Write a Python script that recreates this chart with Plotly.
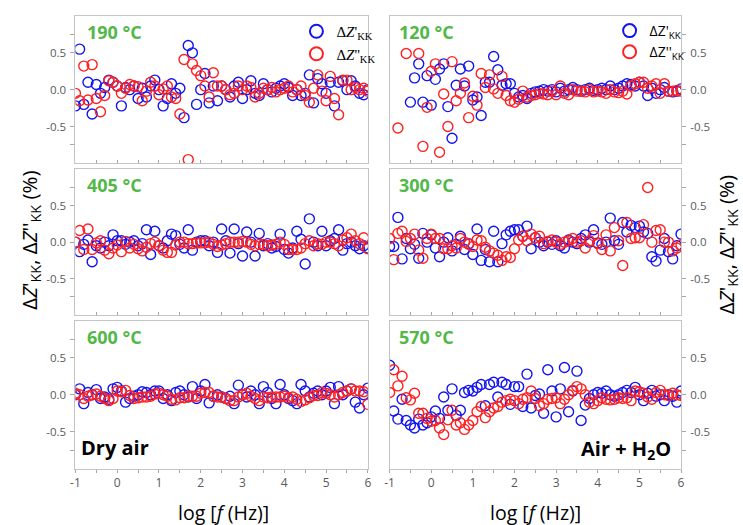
import plotly.graph_objects as go

# ---------------- data ----------------
LOGF = [-1.0, -0.9, -0.8, -0.7, -0.6, -0.5, -0.4, -0.3, -0.2, -0.1,
        0.0, 0.1, 0.2, 0.3, 0.4, 0.5, 0.6, 0.7, 0.8, 0.9,
        1.0, 1.1, 1.2, 1.3, 1.4, 1.5, 1.6, 1.7, 1.8, 1.9,
        2.0, 2.1, 2.2, 2.3, 2.4, 2.5, 2.6, 2.7, 2.8, 2.9,
        3.0, 3.1, 3.2, 3.3, 3.4, 3.5, 3.6, 3.7, 3.8, 3.9,
        4.0, 4.1, 4.2, 4.3, 4.4, 4.5, 4.6, 4.7, 4.8, 4.9,
        5.0, 5.1, 5.2, 5.3, 5.4, 5.5, 5.6, 5.7, 5.8, 5.9,
        6.0]

# 190 °C, dry air
ZRE_190 = [-0.22, 0.55, -0.20, 0.10, -0.33, 0.07, -0.05, 0.03, 0.13, 0.10,
           0.05, -0.22, 0.03, 0.00, 0.05, -0.12, 0.02, -0.10, 0.05, 0.13,
           0.00, -0.22, -0.12, 0.08, -0.05, 0.02, -0.38, 0.60, 0.50, -0.20,
           0.00, 0.22, -0.18, 0.05, -0.15, 0.05, 0.00, -0.10, 0.05, 0.10,
           -0.12, 0.00, 0.12, -0.05, -0.08, 0.08, 0.00, -0.03, 0.02, 0.05,
           0.08, 0.03, -0.08, 0.00, -0.08, -0.05, 0.20, -0.18, 0.15, 0.08,
           -0.05, 0.10, -0.22, 0.10, 0.12, 0.00, 0.12, 0.05, -0.05, -0.07,
           0.00]
ZIM_190 = [-0.05, -0.15, 0.32, -0.14, 0.34, -0.12, -0.30, -0.08, 0.12, 0.10,
           0.05, -0.05, 0.02, 0.07, 0.05, 0.04, -0.15, -0.02, 0.10, 0.05,
           -0.07, 0.01, 0.05, -0.10, -0.12, -0.33, 0.41, -0.95, 0.35, 0.26,
           0.19, 0.05, -0.10, 0.23, 0.05, 0.05, 0.00, -0.07, -0.05, 0.05,
           0.00, 0.05, 0.03, -0.10, -0.05, 0.02, 0.00, 0.03, -0.03, 0.00,
           0.02, 0.05, -0.03, 0.00, 0.05, -0.08, -0.17, 0.02, 0.20, -0.02,
           -0.15, 0.18, -0.12, -0.34, 0.13, 0.13, 0.00, 0.03, 0.00, 0.02,
           -0.02]

# 120 °C, air + H2O
ZRE_120 = [None, None, None, None, None, -0.17, 0.16, 0.35, -0.17, 0.19,
           -0.21, 0.14, 0.28, 0.35, -0.23, -0.66, 0.06, 0.28, 0.05, 0.32,
           -0.14, -0.10, -0.35, 0.10, 0.10, 0.45, 0.27, 0.06, 0.08, 0.08,
           -0.05, -0.10, -0.08, -0.12, -0.05, -0.03, -0.02, 0.00, -0.02, 0.00,
           -0.03, 0.02, -0.02, 0.00, 0.03, 0.00, -0.02, 0.00, 0.02, -0.01,
           0.00, 0.02, 0.00, 0.05, 0.00, 0.02, 0.05, 0.08, 0.07, 0.05,
           0.10, 0.05, -0.08, 0.02, -0.05, 0.00, 0.03, -0.02, -0.03, -0.02,
           0.01]
ZIM_120 = [None, None, -0.52, None, 0.49, None, None, 0.49, -0.77, -0.24,
           0.25, 0.35, -0.85, -0.06, -0.50, 0.38, -0.15, -0.05, 0.09, -0.38,
           -0.09, -0.21, 0.22, 0.03, 0.20, 0.01, -0.05, 0.18, -0.08, -0.15,
           -0.17, -0.13, -0.02, -0.10, -0.08, -0.07, -0.05, -0.06, -0.07, -0.02,
           -0.07, 0.05, -0.05, -0.07, 0.00, -0.02, -0.02, -0.03, 0.00, -0.03,
           -0.02, -0.03, -0.05, 0.00, -0.03, -0.04, -0.02, -0.06, 0.05, 0.08,
           0.10, 0.10, 0.02, 0.05, 0.08, -0.05, 0.08, -0.02, -0.02, -0.01,
           -0.02]

# 405 °C, dry air
ZRE_405 = [0.00, -0.13, -0.03, 0.03, -0.27, -0.05, -0.08, 0.00, -0.05, 0.10,
           0.02, 0.02, -0.03, 0.00, 0.02, -0.05, -0.02, 0.17, -0.17, 0.15,
           -0.05, -0.08, 0.02, 0.11, 0.09, -0.03, -0.08, 0.17, -0.11, 0.00,
           0.02, 0.02, -0.05, 0.00, -0.14, 0.18, 0.02, -0.15, 0.18, -0.02,
           -0.19, 0.14, 0.00, -0.19, 0.12, -0.05, -0.02, -0.08, -0.06, 0.11,
           -0.10, -0.15, -0.08, 0.15, 0.04, -0.30, 0.32, 0.00, -0.05, 0.15,
           -0.05, 0.02, 0.05, 0.17, -0.11, -0.02, 0.00, -0.05, -0.09, -0.05,
           -0.08]
ZIM_405 = [0.00, 0.16, -0.10, 0.18, -0.10, -0.01, 0.02, -0.11, -0.16, -0.08,
           -0.04, -0.13, 0.01, -0.08, -0.03, -0.09, -0.12, -0.07, -0.02, 0.00,
           -0.05, -0.11, -0.14, -0.14, -0.04, 0.00, 0.00, -0.02, -0.02, -0.01,
           -0.01, -0.01, 0.00, -0.03, -0.06, -0.04, -0.02, 0.00, 0.00, 0.00,
           0.01, 0.00, -0.03, -0.05, -0.03, -0.03, -0.05, -0.04, -0.03, 0.00,
           -0.03, -0.10, -0.10, -0.10, -0.08, -0.02, 0.02, -0.05, -0.02, -0.03,
           0.00, 0.00, -0.02, -0.05, 0.03, 0.06, 0.11, 0.02, -0.02, 0.06,
           -0.09]

# 300 °C, air + H2O
ZRE_300 = [-0.06, -0.06, 0.34, -0.23, 0.05, -0.09, -0.03, -0.22, 0.12, 0.00,
           0.10, -0.08, -0.20, 0.00, 0.06, -0.12, -0.03, 0.08, -0.10, -0.02,
           -0.17, 0.18, -0.25, -0.10, -0.27, 0.15, -0.27, -0.02, 0.10, 0.15,
           0.17, 0.17, 0.08, 0.22, -0.09, 0.06, 0.00, -0.05, 0.00, -0.03,
           0.02, -0.05, -0.08, 0.03, 0.00, -0.02, 0.05, 0.10, 0.00, 0.17,
           -0.01, -0.03, 0.00, 0.33, 0.02, -0.03, 0.27, 0.14, 0.23, 0.20,
           0.22, 0.14, 0.12, -0.20, -0.26, -0.11, 0.05, -0.13, -0.23, -0.05,
           0.11]
ZIM_300 = [0.05, -0.24, 0.12, 0.15, 0.01, 0.05, 0.11, -0.11, -0.22, 0.05,
           0.11, 0.05, 0.05, -0.09, -0.09, -0.05, -0.08, 0.05, 0.00, -0.03,
           -0.06, 0.03, 0.02, -0.07, -0.12, -0.15, -0.18, -0.25, -0.20, -0.21,
           -0.09, 0.03, 0.08, 0.02, 0.11, 0.06, 0.08, -0.02, 0.01, 0.03,
           0.00, -0.03, 0.00, 0.02, 0.05, 0.00, 0.02, -0.08, 0.02, 0.09,
           -0.02, -0.10, 0.10, -0.12, 0.20, 0.02, -0.32, 0.27, 0.05, 0.06,
           0.06, 0.24, 0.75, 0.00, 0.16, 0.17, 0.00, 0.00, -0.12, -0.08,
           -0.04]

# 600 °C, dry air
ZRE_600 = [0.00, 0.08, -0.12, 0.03, 0.00, 0.07, -0.05, -0.03, -0.06, 0.08,
           0.10, 0.05, -0.10, -0.05, -0.02, 0.00, 0.04, 0.03, 0.00, 0.05,
           0.05, -0.05, 0.00, -0.08, 0.03, 0.05, 0.00, -0.03, 0.11, -0.05,
           0.05, 0.14, -0.11, -0.02, 0.00, -0.03, -0.05, -0.02, -0.12, 0.13,
           0.00, -0.03, 0.05, 0.00, -0.12, 0.11, 0.03, -0.05, -0.12, 0.14,
           0.00, -0.05, -0.08, -0.12, 0.14, 0.05, -0.03, 0.02, 0.05, 0.00,
           0.05, 0.10, -0.12, 0.11, 0.00, 0.05, 0.08, -0.10, -0.18, 0.00,
           0.09]
ZIM_600 = [0.02, 0.00, -0.05, -0.02, 0.00, 0.01, -0.02, -0.05, -0.08, -0.05,
           0.05, 0.04, 0.06, -0.01, -0.05, -0.04, -0.03, -0.03, -0.02, 0.01,
           0.02, 0.00, -0.02, -0.06, -0.07, -0.04, -0.04, -0.02, -0.02, -0.02,
           0.02, 0.03, 0.03, -0.02, -0.03, -0.03, -0.05, -0.08, -0.08, -0.03,
           0.00, 0.02, -0.02, -0.05, -0.08, -0.03, -0.04, -0.03, -0.03, -0.03,
           -0.02, -0.04, -0.03, -0.06, -0.09, -0.07, -0.04, -0.01, -0.01, 0.03,
           0.02, 0.00, -0.03, 0.00, 0.03, 0.05, 0.08, 0.05, 0.05, 0.04,
           -0.13]

# 570 °C, air + H2O
ZRE_570 = [0.40, -0.22, -0.33, -0.06, -0.35, -0.41, -0.45, -0.33, -0.41, -0.38,
           -0.30, -0.22, -0.32, -0.03, -0.21, 0.08, -0.28, -0.21, 0.03, 0.06,
           0.05, 0.10, 0.14, -0.15, 0.14, 0.17, -0.03, 0.17, 0.14, -0.13,
           0.11, 0.11, -0.16, 0.28, -0.18, -0.01, 0.01, -0.25, 0.34, 0.05,
           -0.30, 0.08, 0.37, -0.23, 0.05, 0.32, -0.35, -0.14, -0.05, 0.00,
           0.03, 0.02, 0.05, 0.00, -0.02, 0.00, 0.03, 0.06, 0.03, 0.10,
           0.00, -0.08, 0.02, 0.06, -0.02, 0.00, -0.08, 0.00, -0.02, -0.10,
           0.05]
ZIM_570 = [0.03, 0.34, 0.12, 0.25, -0.04, -0.07, 0.02, -0.25, -0.25, -0.32,
           -0.36, -0.35, -0.45, -0.54, -0.34, -0.21, -0.41, -0.38, -0.47, -0.41,
           -0.35, -0.23, -0.16, -0.31, -0.23, -0.18, -0.16, -0.10, -0.08, -0.06,
           -0.08, -0.12, -0.06, -0.04, 0.05, -0.05, -0.15, -0.12, -0.06, -0.05,
           -0.04, -0.12, -0.06, 0.00, 0.06, 0.11, 0.08, 0.00, -0.10, -0.12,
           -0.08, -0.04, -0.06, -0.07, -0.06, -0.04, -0.05, -0.04, -0.08, 0.05,
           0.04, 0.02, -0.03, -0.06, 0.03, 0.06, 0.00, -0.01, 0.02, 0.00,
           -0.01]

PANEL_LABELS = ["190 °C", "120 °C", "405 °C", "300 °C", "600 °C", "570 °C"]
SERIES = [(ZRE_190, ZIM_190), (ZRE_120, ZIM_120), (ZRE_405, ZIM_405),
          (ZRE_300, ZIM_300), (ZRE_600, ZIM_600), (ZRE_570, ZIM_570)]
Y_TICKVALS = [-0.5, 0.0, 0.5]
Y_TICKTEXT = ["-0.5", "0.0", "0.5"]
X_TICKVALS = [-1, 0, 1, 2, 3, 4, 5, 6]
X_TICKTEXT = ["-1", "0", "1", "2", "3", "4", "5", "6"]

# ---------------- layout helpers ----------------
W, H = 743, 525
def px(x):
    return x / W
def py(y):
    return 1 - y / H

BLUE = "#1414F0"
RED = "#FF2020"
GREEN = "#52B848"
FRAME = "#C4C4C4"
TICKC = "#A6A6A6"
TXT = "#595959"

XDOM = [[px(71.3), px(367.3)], [px(389.3), px(684.3)]]
YDOM = [[py(163.3), py(16)], [py(315), py(169.3)], [py(468.5), py(321)]]

fig = go.Figure()

for i, (zre, zim) in enumerate(SERIES):
    sfx = "" if i == 0 else str(i + 1)
    fig.add_trace(go.Scatter(
        x=LOGF, y=zre, mode="markers", xaxis="x" + sfx, yaxis="y" + sfx,
        marker=dict(symbol="circle-open", size=10, color=BLUE, line=dict(width=1.4, color=BLUE)),
        showlegend=False, hoverinfo="skip"))
    fig.add_trace(go.Scatter(
        x=LOGF, y=zim, mode="markers", xaxis="x" + sfx, yaxis="y" + sfx,
        marker=dict(symbol="circle-open", size=10, color=RED, line=dict(width=1.4, color=RED)),
        showlegend=False, hoverinfo="skip"))

# legend entries (top panels)
for leg, sfx, it in [("legend", "", True), ("legend2", "2", False)]:
    z = "<i>Z</i>" if it else "Z"
    fig.add_trace(go.Scatter(
        x=[None], y=[None], mode="markers", xaxis="x" + sfx, yaxis="y" + sfx,
        name="Δ" + z + "'<sub>KK</sub>", legend=leg,
        marker=dict(symbol="circle-open", size=13, color=BLUE, line=dict(width=2, color=BLUE))))
    fig.add_trace(go.Scatter(
        x=[None], y=[None], mode="markers", xaxis="x" + sfx, yaxis="y" + sfx,
        name="Δ" + z + "''<sub>KK</sub>", legend=leg,
        marker=dict(symbol="circle-open", size=13, color=RED, line=dict(width=2, color=RED))))

layout = dict(
    width=W, height=H, margin=dict(l=0, r=0, t=0, b=0),
    paper_bgcolor="white", plot_bgcolor="white",
    font=dict(family="Open Sans", color=TXT),
    legend=dict(x=px(295), y=py(15), xanchor="left", yanchor="top",
                bgcolor="rgba(0,0,0,0)", font=dict(family="Liberation Serif", size=15, color="black"),
                tracegroupgap=0),
    legend2=dict(x=px(612), y=py(15), xanchor="left", yanchor="top",
                 bgcolor="rgba(0,0,0,0)", font=dict(family="Open Sans", size=14, color="black"),
                 tracegroupgap=0),
)

annotations = []
for i in range(6):
    col, row = i % 2, i // 2
    sfx = "" if i == 0 else str(i + 1)
    xticks = "inside" if row < 2 else "outside"
    layout["xaxis" + sfx] = dict(
        domain=XDOM[col], range=[-1, 6], anchor="y" + sfx,
        showline=True, mirror=True, linecolor=FRAME, linewidth=1,
        showgrid=False, zeroline=False,
        tickmode="array", tickvals=X_TICKVALS, ticktext=X_TICKTEXT,
        ticks=xticks, ticklen=3, tickcolor=TICKC,
        showticklabels=(row == 2), tickfont=dict(size=12, color=TXT),
        minor=dict(dtick=0.5, tick0=-0.5, ticks=xticks, ticklen=3, tickcolor=TICKC),
    )
    layout["yaxis" + sfx] = dict(
        domain=YDOM[row], range=[-1, 1], anchor="x" + sfx,
        side="left" if col == 0 else "right",
        showline=True, mirror=True, linecolor=FRAME, linewidth=1,
        showgrid=False, zeroline=False,
        tickmode="array", tickvals=Y_TICKVALS, ticktext=Y_TICKTEXT,
        ticks="outside", ticklen=4, tickcolor=TICKC, tickfont=dict(size=11.5, color=TXT),
        ticklabelstandoff=2,
        minor=dict(tickmode="array", tickvals=[-0.75, 0.75], ticks="outside", ticklen=4, tickcolor=TICKC),
    )
    xl = 84 if col == 0 else 400
    ytop = [16, 169.3, 321][row]
    annotations.append(dict(
        text="<b>" + PANEL_LABELS[i] + "</b>", xref="paper", yref="paper",
        x=px(xl - 3), y=py(ytop + 16), xanchor="left", yanchor="middle", showarrow=False,
        font=dict(family="Open Sans", size=18, color=GREEN)))

annotations += [
    dict(text="<b>Dry air</b>", xref="paper", yref="paper", x=px(75), y=py(447),
         xanchor="left", yanchor="middle", showarrow=False,
         font=dict(family="Open Sans", size=20, color="black")),
    dict(text="<b>Air + H<sub>2</sub>O</b>", xref="paper", yref="paper", x=px(676), y=py(449),
         xanchor="right", yanchor="middle", showarrow=False,
         font=dict(family="Open Sans", size=20, color="black")),
    dict(text="log [<i>f</i> (Hz)]", xref="paper", yref="paper", x=px(221), y=py(512),
         xanchor="center", yanchor="middle", showarrow=False,
         font=dict(family="Open Sans", size=19.5, color="black")),
    dict(text="log [<i>f</i> (Hz)]", xref="paper", yref="paper", x=px(537), y=py(512),
         xanchor="center", yanchor="middle", showarrow=False,
         font=dict(family="Open Sans", size=19.5, color="black")),
]
ytitle = "Δ<i>Z</i>'<sub>KK</sub>, Δ<i>Z</i>''<sub>KK</sub> (%)"
annotations += [
    dict(text=ytitle, xref="paper", yref="paper", x=px(25), y=py(240), textangle=-90,
         xanchor="center", yanchor="middle", showarrow=False,
         font=dict(family="Open Sans", size=20.5, color="black")),
    dict(text=ytitle, xref="paper", yref="paper", x=px(731), y=py(245), textangle=-90,
         xanchor="center", yanchor="middle", showarrow=False,
         font=dict(family="Open Sans", size=20.5, color="black")),
]
layout["annotations"] = annotations
fig.update_layout(**layout)

fig.write_html("out.html")
